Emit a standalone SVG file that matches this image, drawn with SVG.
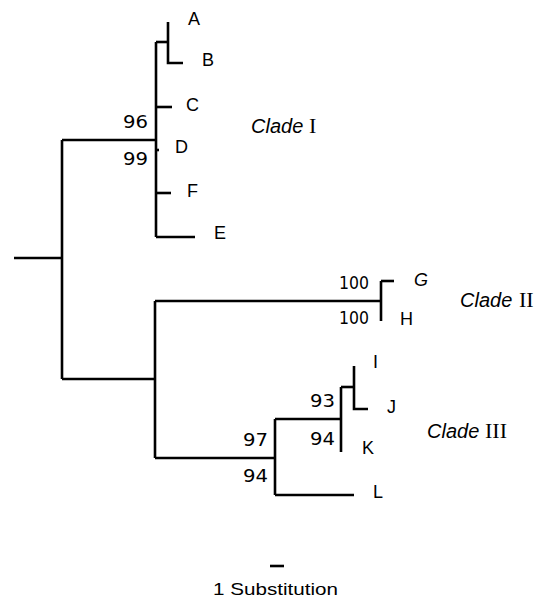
<svg xmlns="http://www.w3.org/2000/svg" width="542" height="598" viewBox="0 0 542 598">
<style>
.br{fill:none;stroke:#000;stroke-width:2.6;stroke-linecap:butt;stroke-linejoin:miter}
text{font-family:"Liberation Sans",Arial,sans-serif;fill:#000}
.lab{font-size:18px}
.num{font-family:"DejaVu Sans",sans-serif;font-size:18px}
.it{font-style:italic}
.clade{font-size:20px;font-style:italic}
.rom{font-family:"Liberation Serif","Times New Roman",serif;font-style:normal;font-size:22px}
</style>
<rect width="542" height="598" fill="#fff"/>
<g id="connectors">
<path class="br" d="M14,258 H62"/>
<path class="br" d="M62,140 V379"/>
<path class="br" d="M62,140 H156"/>
<path class="br" d="M156,42 V237"/>
<path class="br" d="M156,42 H168"/>
<path class="br" d="M168,22 V63 H183"/>
<path class="br" d="M156,107 H172"/>
<path class="br" d="M156,150 H159"/>
<path class="br" d="M156,193 H171"/>
<path class="br" d="M156,237 H195"/>
<path class="br" d="M62,379 H155"/>
<path class="br" d="M155,301 V458"/>
<path class="br" d="M155,301 H381"/>
<path class="br" d="M381,281 V321"/>
<path class="br" d="M381,281 H394"/>
<path class="br" d="M155,458 H275"/>
<path class="br" d="M275,419 V495"/>
<path class="br" d="M275,495 H354"/>
<path class="br" d="M275,419 H341"/>
<path class="br" d="M341,387 V452"/>
<path class="br" d="M341,387 H354"/>
<path class="br" d="M354,366 V409 H368"/>
<path class="br" d="M270,566 H284"/>
</g>
<g id="node-A"><text class="lab" x="188" y="25">A</text></g>
<g id="node-B"><text class="lab" x="202" y="66">B</text></g>
<g id="node-C"><text class="lab" x="186" y="111">C</text></g>
<g id="node-D"><text class="lab" x="175" y="153">D</text></g>
<g id="node-F"><text class="lab" x="187" y="197">F</text></g>
<g id="node-E"><text class="lab" x="214" y="239">E</text></g>
<g id="node-G"><text class="lab it" x="414" y="286">G</text></g>
<g id="node-H"><text class="lab" x="400" y="325">H</text></g>
<g id="node-I"><text class="lab" x="373" y="368">I</text></g>
<g id="node-J"><text class="lab" x="387" y="413">J</text></g>
<g id="node-K"><text class="lab" x="362" y="454">K</text></g>
<g id="node-L"><text class="lab" x="373" y="498">L</text></g>
<g id="support">
<text class="num" x="123" y="128" textLength="25" lengthAdjust="spacingAndGlyphs">96</text>
<text class="num" x="123" y="165" textLength="25" lengthAdjust="spacingAndGlyphs">99</text>
<text class="num" x="339" y="289" textLength="30" lengthAdjust="spacingAndGlyphs">100</text>
<text class="num" x="339" y="324" textLength="30" lengthAdjust="spacingAndGlyphs">100</text>
<text class="num" x="310" y="407" textLength="25" lengthAdjust="spacingAndGlyphs">93</text>
<text class="num" x="310" y="445" textLength="25" lengthAdjust="spacingAndGlyphs">94</text>
<text class="num" x="243" y="446" textLength="25" lengthAdjust="spacingAndGlyphs">97</text>
<text class="num" x="243" y="482" textLength="25" lengthAdjust="spacingAndGlyphs">94</text>
</g>
<g id="clade-I"><text class="clade" x="251" y="133">Clade<tspan class="rom" x="309">I</tspan></text></g>
<g id="clade-II"><text class="clade" x="460" y="307">Clade<tspan class="rom" x="519">II</tspan></text></g>
<g id="clade-III"><text class="clade" x="427" y="438">Clade<tspan class="rom" x="485">III</tspan></text></g>
<g id="scale"><text x="213" y="595" font-family="DejaVu Sans, sans-serif" font-size="17" textLength="125" lengthAdjust="spacingAndGlyphs">1 Substitution</text></g>
</svg>
